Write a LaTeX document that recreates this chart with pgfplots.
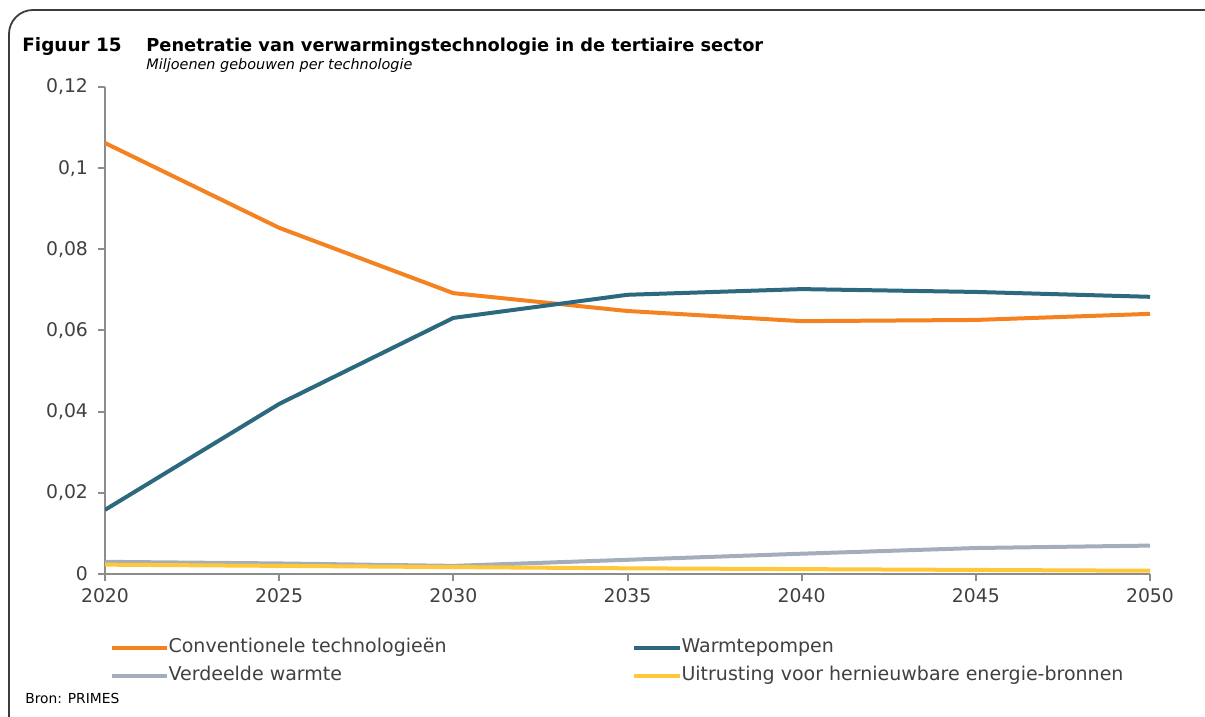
\documentclass[border=0pt]{standalone}
\usepackage{fontspec}
\setmainfont{DejaVu Sans}
\usepackage{pgfplots}
\pgfplotsset{compat=1.18}
\definecolor{conv}{RGB}{245,130,32}
\definecolor{wp}{RGB}{44,104,126}
\definecolor{verd}{RGB}{164,174,186}
\definecolor{hern}{RGB}{255,200,58}
\definecolor{axgray}{RGB}{140,140,140}
\definecolor{txt}{RGB}{64,64,64}
\definecolor{frame}{RGB}{60,60,60}
\pgfplotsset{
  long legend/.style={legend image code/.code={\draw[##1] (0pt,0pt) -- (27.5pt,0pt);}},
  short legend/.style={legend image code/.code={\draw[##1] (0pt,0pt) -- (23pt,0pt);}},
}

\begin{document}
\begin{tikzpicture}
\useasboundingbox (0pt,0pt) rectangle (602.5pt,358.5pt);
% kader (alleen boven en links zichtbaar)
\draw[frame, line width=0.9pt, rounded corners=12pt] (4.5pt,-10pt) -- (4.5pt,353.5pt) -- (640pt,353.5pt);

\node[anchor=base west, inner sep=0pt, font=\bfseries\fontsize{9.2}{11}\selectfont] at (11pt,332.5pt) {Figuur 15};
\node[anchor=base west, inner sep=0pt, font=\bfseries\fontsize{8.9}{11}\selectfont] at (73pt,332.5pt) {Penetratie van verwarmingstechnologie in de tertiaire sector};
\node[anchor=base west, inner sep=0pt, font=\itshape\fontsize{7.2}{9}\selectfont] at (73pt,323.5pt) {Miljoenen gebouwen per technologie};
\node[anchor=base west, inner sep=0pt, font=\fontsize{6.9}{8}\selectfont] at (12.5pt,6.5pt) {Bron: PRIMES};

\begin{axis}[
    at={(52.5pt,71.5pt)}, anchor=south west,
    scale only axis, width=522.5pt, height=243.5pt,
    xmin=2020, xmax=2050, ymin=0, ymax=0.12,
    axis x line*=bottom, axis y line*=left,
    axis line style={draw=axgray, line width=1.2pt, -},
    xtick={2020,2025,...,2050},
    xticklabels={2020,2025,2030,2035,2040,2045,2050},
    ytick={0,0.02,0.04,0.06,0.08,0.1,0.12},
    yticklabels={0,{0,02},{0,04},{0,06},{0,08},{0,1},{0,12}},
    tick align=outside, major tick length=3.5pt,
    tick style={draw=axgray, line width=1pt},
    ticklabel style={font=\fontsize{9.4}{11}\selectfont, text=txt},
    yticklabel style={xshift=-1.5pt},
    /pgf/number format/assume math mode=true,
    legend columns=2,
    legend cell align=left,
    legend style={draw=none, fill=none, inner sep=0pt,
        at={(0.0040,-0.128)}, anchor=north west,
        font=\fontsize{9.5}{11}\selectfont, text=txt,
        nodes={inner xsep=0pt, inner ysep=1pt, text height=7pt, text depth=2pt},
        row sep=3pt,
        /tikz/every even column/.append style={column sep=92.5pt}},
    long legend,
    every axis plot/.append style={line width=2pt},
]
\addplot[conv] coordinates {
  (2020,0.1062) (2025,0.0853) (2030,0.0692) (2035,0.0648) (2040,0.0623) (2045,0.0626) (2050,0.0641)};
\addlegendentry{Conventionele technologieën}
\addplot[wp, short legend] coordinates {
  (2020,0.0158) (2025,0.0419) (2030,0.0631) (2035,0.0688) (2040,0.0702) (2045,0.0695) (2050,0.0683)};
\addlegendentry{Warmtepompen}
\addplot[verd] coordinates {
  (2020,0.0030) (2025,0.0026) (2030,0.0020) (2035,0.0035) (2040,0.0050) (2045,0.0064) (2050,0.0070)};
\addlegendentry{Verdeelde warmte}
\addplot[hern, short legend] coordinates {
  (2020,0.0023) (2025,0.0020) (2030,0.0017) (2035,0.0014) (2040,0.0012) (2045,0.0010) (2050,0.0008)};
\addlegendentry{Uitrusting voor hernieuwbare energie-bronnen}
\end{axis}
\end{tikzpicture}
\end{document}
